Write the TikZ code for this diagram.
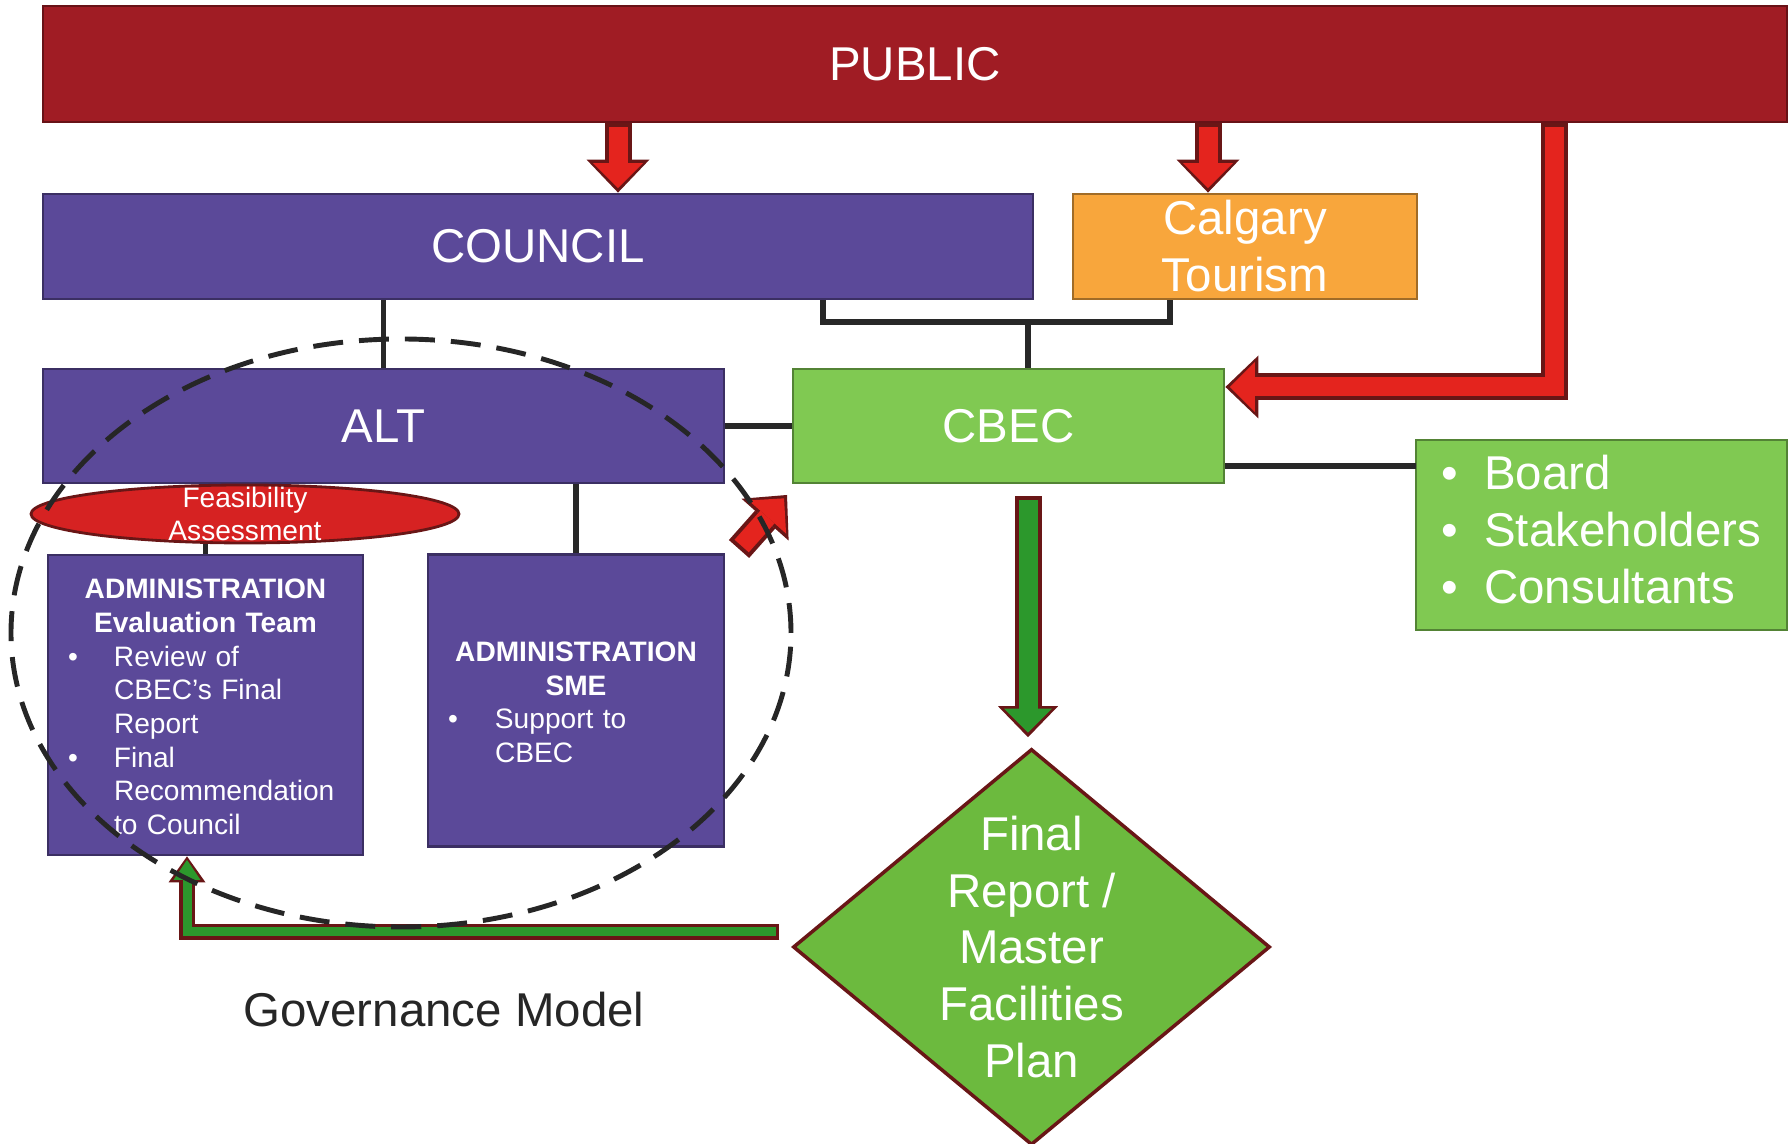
\documentclass[tikz,border=0pt]{standalone}
\usepackage{fontspec}
\setmainfont{Liberation Sans}
\usetikzlibrary{arrows.meta,shapes.geometric}

\definecolor{pubred}{RGB}{160,28,36}
\definecolor{purp}{RGB}{91,73,153}
\definecolor{tourorange}{RGB}{248,166,60}
\definecolor{cbecgreen}{RGB}{128,201,82}
\definecolor{plangreen}{RGB}{108,186,62}
\definecolor{feasred}{RGB}{214,34,34}
\definecolor{arrowred}{RGB}{228,36,30}
\definecolor{arrowgreen}{RGB}{44,152,44}
\definecolor{rimred}{RGB}{105,22,22}
\definecolor{linkgray}{RGB}{40,40,40}

\newcommand{\bigfont}{\fontsize{13.5}{16.2}\selectfont}
\newcommand{\smallfont}{\fontsize{8}{9.6}\selectfont}

\tikzset{
  colbox/.style={draw=#1!65!black, fill=#1, line width=0.8pt, text=white, inner sep=0pt, font=\bigfont},
  linkline/.style={draw=linkgray, line width=1.6pt},
  redblock/.style={draw=arrowred, line width=1.9mm, shorten >=0.45mm, shorten <=0.4mm,
    -{Triangle[length=2.5mm,width=5.0mm,line width=0pt]},
    preaction={draw=rimred, line width=2.7mm, shorten >=0pt, shorten <=0pt,
      -{Triangle[length=3.3mm,width=6.3mm,line width=0pt]}}},
  greenblock/.style={draw=arrowgreen, line width=1.9mm, shorten >=0.45mm, shorten <=0.4mm,
    -{Triangle[length=2.4mm,width=4.8mm,line width=0pt]},
    preaction={draw=rimred, line width=2.7mm, shorten >=0pt, shorten <=0pt,
      -{Triangle[length=3.1mm,width=6.0mm,line width=0pt]}}},
  greenthin/.style={draw=arrowgreen, line width=0.9mm, shorten >=0.35mm, shorten <=0.35mm,
    -{Triangle[length=2.0mm,width=2.7mm,line width=0pt]},
    preaction={draw=rimred, line width=1.6mm, shorten >=0pt, shorten <=0pt,
      -{Triangle[length=2.6mm,width=3.7mm,line width=0pt]}}},
  feastext/.style={text=white, font=\smallfont, align=center, inner sep=0pt},
  plantext/.style={text=white, font=\bigfont, align=center, inner sep=0pt},
}

\begin{document}
\begin{tikzpicture}
    \useasboundingbox (0,0) rectangle (17.9,11.44);
    % boxes
    \node[colbox=pubred, minimum width=17.44cm, minimum height=1.16cm] (public) at (9.15,10.80) {PUBLIC};
    \node[colbox=purp, minimum width=9.90cm, minimum height=1.05cm] (council) at (5.38,8.975) {COUNCIL};
    \node[colbox=tourorange, minimum width=3.44cm, minimum height=1.05cm, align=center] (tourism) at (12.45,8.975) {Calgary\\Tourism};
    \node[colbox=purp, minimum width=6.81cm, minimum height=1.14cm] (alt) at (3.835,7.18) {ALT};
    \node[colbox=cbecgreen, minimum width=4.31cm, minimum height=1.14cm] (cbec) at (10.085,7.18) {CBEC};
    \node[colbox=cbecgreen, minimum width=3.71cm, minimum height=1.90cm] (board) at (16.015,6.09)
      {\raisebox{-0.07cm}{\begin{tabular}{@{}l@{\hspace{0.26cm}}l@{}}\textbullet & Board\\ \textbullet & Stakeholders\\ \textbullet & Consultants\end{tabular}}};
    \node[colbox=purp, font=\smallfont, minimum height=3.0cm, text width=2.75cm, inner xsep=0.2cm] (evalteam) at (2.055,4.39)
      {{\centering\bfseries\rule{0pt}{9.5pt}ADMINISTRATION\\Evaluation Team\par}%
       \noindent\begin{tabular}[t]{@{}p{0.46cm}@{}l@{}}
         \textbullet & Review of\\
                     & CBEC's Final\\
                     & Report\\
         \textbullet & Final\\
                     & Recommendation\\
                     & to Council
       \end{tabular}};
    \node[colbox=purp, font=\smallfont, minimum height=2.92cm, text width=2.56cm, inner xsep=0.2cm] (sme) at (5.76,4.435)
      {{\centering\bfseries\rule{0pt}{9.5pt}ADMINISTRATION\\SME\par}%
       \noindent\begin{tabular}[t]{@{}p{0.47cm}@{}l@{}}
         \textbullet & Support to\\
                     & CBEC
       \end{tabular}};
    \node[ellipse, draw=rimred, fill=feasred, line width=0.8pt, minimum width=4.28cm, minimum height=0.58cm, inner sep=0pt,
      label={[feastext]center:Feasibility\\Assessment}] (feas) at (2.45,6.30) {};
    \node[diamond, draw=rimred, fill=plangreen, line width=1pt, minimum width=4.77cm, minimum height=3.96cm, inner sep=0pt,
      label={[plantext]center:Final\\Report /\\Master\\Facilities\\Plan}] (final) at (10.315,1.97) {};
    \node[font=\bigfont, text=black!85] (govlabel) at (4.44,1.34) {Governance Model};

    % plain links
    \coordinate (joinl) at (8.23,8.22);
    \coordinate (joinr) at (11.70,8.22);
    \coordinate (joinm) at (10.28,8.22);
    \coordinate (boardlink) at (14.16,6.78);
    \draw[linkline] (council.south -| joinl) -- (joinl) -- (joinr) -- (tourism.south -| joinr);
    \draw[linkline] (joinm) -- (cbec.north -| joinm);
    \draw[linkline] (alt.north |- council.south) -- (alt.north);
    \draw[linkline] (alt) -- (cbec);
    \draw[linkline] (sme.north |- alt.south) -- (sme.north);
    \draw[linkline] (evalteam.north) -- (evalteam.north |- feas.south);
    \draw[linkline] (cbec.east |- boardlink) -- (boardlink);

    % block arrows
    \coordinate (puba) at (6.18,10);
    \coordinate (pubb) at (12.08,10);
    \coordinate (pubc) at (15.54,7.57);
    \coordinate (hintfrom) at (7.39,5.95);
    \coordinate (hintto) at (7.87,6.49);
    \coordinate (loopx) at (1.87,0);
    \draw[redblock] (public.south -| puba) -- (council.north -| puba);
    \draw[redblock] (public.south -| pubb) -- (tourism.north -| pubb);
    \draw[redblock] (public.south -| pubc) |- (cbec.east |- pubc);
    \draw[redblock] (hintfrom) -- (hintto);
    \draw[greenblock] ([yshift=-1.2mm]cbec.south -| joinm) -- ([yshift=1mm]final.north -| joinm);
    \draw[greenthin] ([shift={(-0.12,0.15)}]final.west) -| (evalteam.south -| loopx);

    % dashed group
    \node[ellipse, draw=black!85, line width=1.4pt, dash pattern=on 0.30cm off 0.16cm,
      minimum width=7.80cm, minimum height=5.88cm, inner sep=0pt] (altgroup) at (4.01,5.11) {};
\end{tikzpicture}
\end{document}
